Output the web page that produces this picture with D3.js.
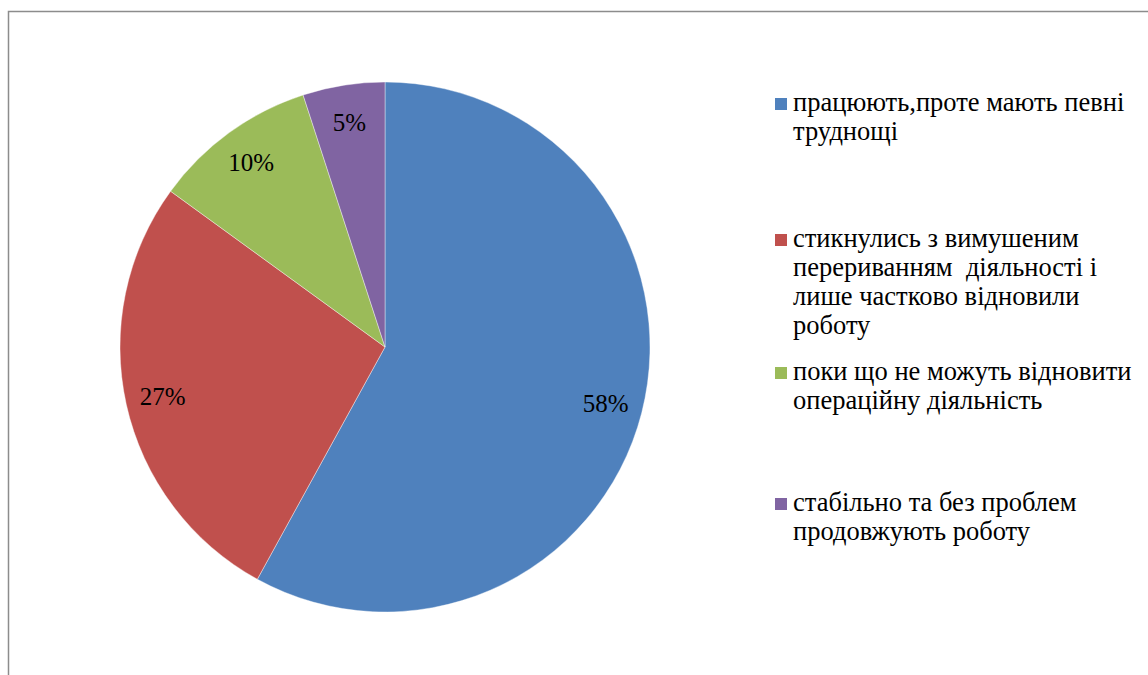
<!DOCTYPE html>
<html>
<head>
  <meta charset="utf-8">
  <script src="https://d3js.org/d3.v7.min.js"></script>
</head>
<body style="margin:0">
<script>
  // chart data
  var categories = [
    "працюють,проте мають певні труднощі",
    "стикнулись з вимушеним перериванням  діяльності і лише частково відновили роботу",
    "поки що не можуть відновити операційну діяльність",
    "стабільно та без проблем продовжують роботу"
  ];
  var values = [58, 27, 10, 5];
  var valueLabels = ["58%", "27%", "10%", "5%"];
  // legend text as it wraps in the picture
  var legendLines = [
    ["працюють,проте мають певні", "труднощі"],
    ["стикнулись з вимушеним", "перериванням  діяльності і", "лише частково відновили", "роботу"],
    ["поки що не можуть відновити", "операційну діяльність"],
    ["стабільно та без проблем", "продовжують роботу"]
  ];
  var colors = ["#4f81bd", "#c0504d", "#9bbb59", "#8064a2"];

  var width = 1148, height = 675;
  var cx = 385, cy = 347, radius = 265;

  var svg = d3.select("body").append("svg").attr("width", width).attr("height", height);

  // chart frame (clipped at right and bottom in the picture)
  svg.append("rect").attr("x", 8.5).attr("y", 11.5).attr("width", width).attr("height", height)
    .attr("fill", "none").attr("stroke", "#8c8c8c").attr("stroke-width", 1.5);

  var color = d3.scaleOrdinal().domain(categories).range(colors);
  var pie = d3.pie().sort(null).value(function (d, i) { return values[i]; });
  var arcs = pie(categories);

  var arc = d3.arc().innerRadius(0).outerRadius(radius);
  var labelArc = d3.arc().innerRadius(radius * 0.86).outerRadius(radius * 0.86);

  var g = svg.append("g").attr("transform", "translate(" + cx + "," + cy + ")");

  g.selectAll("path").data(arcs).enter().append("path")
    .attr("d", arc)
    .attr("fill", function (d) { return color(d.data); })
    .attr("stroke", "#ffffff").attr("stroke-width", 0.4);

  g.selectAll("text").data(arcs).enter().append("text")
    .attr("transform", function (d) { return "translate(" + labelArc.centroid(d) + ")"; })
    .attr("text-anchor", "middle")
    .attr("dy", "0.35em")
    .attr("font-family", "Liberation Serif")
    .attr("font-size", 25)
    .text(function (d, i) { return valueLabels[i]; });

  // legend
  var legendTop = [111, 247, 380, 511];
  var lineStep = 29;
  var items = svg.selectAll("g.item").data(categories).enter().append("g")
    .attr("class", "item")
    .attr("transform", function (d, i) { return "translate(775," + legendTop[i] + ")"; });

  items.append("rect").attr("x", 0).attr("y", -13).attr("width", 12).attr("height", 12)
    .attr("fill", function (d) { return color(d); });

  items.append("text")
    .attr("font-family", "Liberation Serif")
    .attr("font-size", 26.5)
    .style("white-space", "pre")
    .selectAll("tspan").data(function (d, i) { return legendLines[i]; }).enter().append("tspan")
    .attr("x", 18)
    .attr("y", function (d, j) { return j * lineStep; })
    .text(function (d) { return d; });
</script>
</body>
</html>
